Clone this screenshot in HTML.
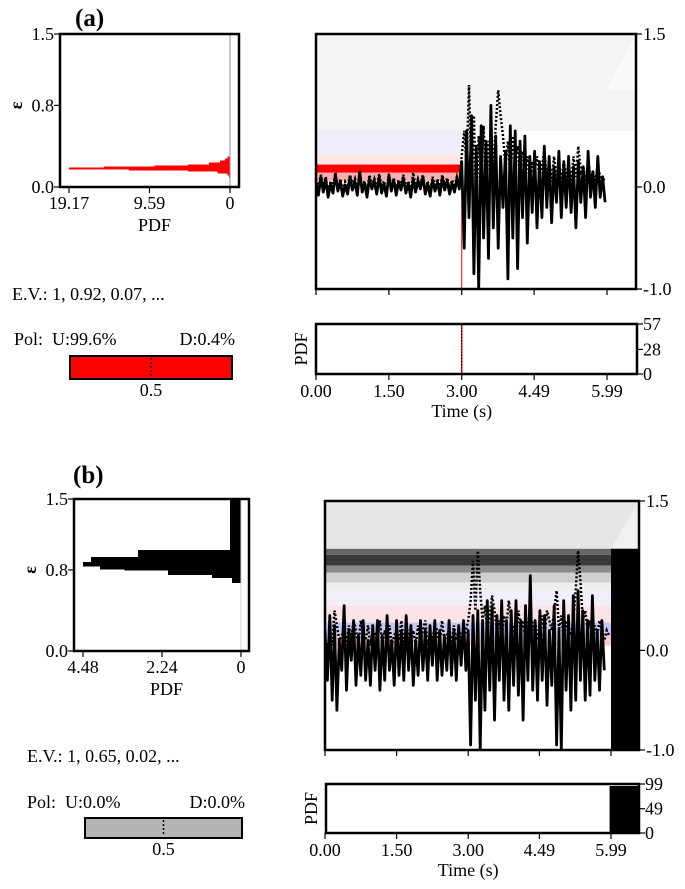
<!DOCTYPE html>
<html><head><meta charset="utf-8"><style>
body{margin:0;background:#fff}
svg{display:block;font-family:"Liberation Serif",serif}
</style></head><body>
<svg id="fig" width="685" height="889" viewBox="0 0 685 889" xmlns="http://www.w3.org/2000/svg">
<g id="root"></g>
</svg>
<script>
// ---------- data ----------
const timeTicks=["0.00","1.50","3.00","4.49","5.99"];
const timeTickVals=[0,1.5,3.0,4.49,5.99];
const epsTicks=[0.0,0.8,1.5];
const ampTicks=["1.5","0.0","-1.0"];
const ampTickVals=[1.5,0,-1];
const dt=0.05;
const solidA=[0.05,-0.08,0.1,-0.05,0.08,-0.1,0.03,-0.06,0.12,-0.04,0.06,-0.09,0.02,-0.07,0.1,-0.03,0.05,-0.08,0.15,-0.05,0.04,-0.1,0.08,-0.02,0.06,-0.07,0.1,-0.06,0.03,-0.09,0.12,-0.04,0.07,-0.08,0.05,-0.03,0.09,-0.06,0.04,-0.1,0.08,-0.05,0.06,-0.02,0.1,-0.07,0.03,-0.09,0.07,-0.04,0.05,-0.08,0.09,-0.03,0.06,-0.07,0.04,-0.05,0.08,-0.02,
0.25,-0.6,0.55,-0.3,0.7,-0.85,0.4,-1.0,0.6,-0.5,0.45,-0.7,0.8,-0.4,0.5,-0.6,0.3,-0.2,0.35,-0.9,0.6,-0.5,0.55,-0.8,0.45,-0.3,0.5,-0.55,0.3,-0.25,0.35,-0.4,0.25,-0.3,0.4,-0.2,0.3,-0.35,0.2,-0.15,0.35,-0.3,0.25,-0.2,0.3,-0.25,0.2,-0.4,0.25,-0.15,0.2,-0.3,0.35,-0.1,0.15,-0.2,0.3,-0.1,0.1,-0.15];
const dottedA=[0.08,-0.02,0.12,0.0,0.1,-0.05,0.06,0.0,0.14,-0.02,0.08,-0.04,0.05,0.0,0.12,0.02,0.08,-0.03,0.1,0.0,0.06,-0.05,0.12,0.02,0.08,-0.02,0.13,0.0,0.06,-0.04,0.1,0.0,0.09,-0.03,0.07,0.01,0.12,-0.02,0.06,-0.05,0.14,0.0,0.08,0.02,0.12,-0.03,0.06,-0.04,0.1,0.0,0.08,-0.03,0.12,0.01,0.09,-0.02,0.07,0.0,0.1,0.02,
0.3,0.55,0.2,1.0,0.1,0.7,-0.2,0.5,0.1,0.6,0.0,0.45,0.3,0.2,0.6,0.95,0.7,0.5,0.2,0.45,0.1,0.5,0.3,0.4,0.1,0.35,0.2,0.3,0.05,0.25,0.15,0.3,0.1,0.2,0.35,0.1,0.25,0.05,0.3,0.1,0.2,0.05,0.25,0.1,0.2,0.05,0.3,0.1,0.4,0.15,0.2,0.05,0.25,0.1,0.15,0.05,0.2,0.1,0.05,0.1];
const solidB=[0.2,-0.3,0.35,-0.5,0.25,-0.6,0.1,-0.2,0.45,-0.4,0.2,-0.1,0.3,-0.35,0.15,-0.25,0.3,-0.3,0.1,-0.35,0.25,-0.2,0.3,-0.4,0.15,-0.3,0.35,-0.2,0.1,-0.35,0.3,-0.25,0.2,-0.3,0.35,-0.2,0.25,-0.35,0.1,-0.25,0.3,-0.2,0.2,-0.3,0.25,-0.15,0.3,-0.3,0.2,-0.25,0.15,-0.2,0.3,-0.25,0.2,-0.3,0.25,-0.15,0.3,-0.2,
0.2,-0.95,0.35,-0.5,0.4,-1.0,0.3,-0.6,0.5,-0.4,0.45,-0.7,0.35,-0.3,0.5,-0.5,0.3,-0.6,0.4,-0.35,0.5,-0.45,0.3,-0.7,0.45,-0.3,0.75,-0.4,0.3,-0.5,0.4,-0.3,0.35,-0.55,0.2,-0.35,0.45,-0.95,0.2,-1.0,0.5,-0.4,0.35,-0.6,0.55,-0.5,0.6,-0.3,0.4,-0.5,0.3,-0.45,0.55,-0.3,0.2,-0.4,0.3,-0.2];
const dottedB=[0.1,0.0,0.2,0.05,0.4,0.25,0.1,0.15,0.2,0.05,0.25,0.1,0.3,0.2,0.05,0.3,0.15,0.1,0.25,0.05,0.2,0.15,0.1,0.3,0.05,0.2,0.1,0.25,0.05,0.15,0.2,0.1,0.3,0.05,0.25,0.15,0.1,0.2,0.05,0.25,0.1,0.2,0.3,0.05,0.15,0.1,0.25,0.2,0.05,0.3,0.1,0.15,0.2,0.05,0.25,0.1,0.2,0.15,0.1,0.2,
0.3,0.5,0.9,0.4,1.0,0.6,0.3,0.45,0.2,0.35,0.55,0.4,0.2,0.3,0.1,0.35,0.25,0.5,0.3,0.2,0.1,0.4,0.2,0.3,0.1,0.25,0.4,0.2,0.3,0.1,0.2,0.35,0.15,0.4,0.3,0.2,0.4,0.6,0.2,0.35,0.1,0.3,0.2,0.15,0.3,0.6,1.0,0.7,0.3,0.4,0.2,0.3,0.1,0.25,0.15,0.3,0.2,0.1,0.2,0.15];
// epsilon marginal PDFs
const epsBinsA=[0.10,0.12,0.14,0.16,0.17,0.18,0.19,0.20,0.21,0.22,0.24,0.26,0.28,0.30];
const pdfA=[0.1,0.3,1.5,5,12,19.17,15,9,5,2.5,1.2,0.6,0.3,0];
const epsBinsB=[0.68,0.73,0.76,0.80,0.81,0.84,0.878,0.928,0.997,1.5];
const pdfB=[0.25,0.82,2.07,3.3,4.0,4.48,4.25,2.92,0.31];
// onset-time PDFs
const onsetA=3.0, onsetPeakA=57;
const onsetStartB=5.96, onsetPeakB=95;

// ---------- helpers ----------
const NS="http://www.w3.org/2000/svg";
const root=document.getElementById('root');
function el(tag,attrs,parent,text){const e=document.createElementNS(NS,tag);for(const k in attrs)e.setAttribute(k,attrs[k]);if(text!==undefined)e.textContent=text;(parent||root).appendChild(e);return e;}
function lin(d0,d1,r0,r1){return v=>r0+(v-d0)/(d1-d0)*(r1-r0);}
function txt(x,y,s,size,anchor,parent,bold){return el('text',{x:x,y:y,'font-size':size,'text-anchor':anchor||'middle','font-weight':bold?'bold':'normal',fill:'#000'},parent,s);}

function panel(cfg){
  const g=el('g',{});
  
  
  const lab=txt(cfg.labX,cfg.labY,cfg.label,25,'start',g,true);
  
  
  // ---- left epsilon PDF
  const L=cfg.left;
  const ey=lin(0,1.5,L.y1,L.y0);
  const px=lin(0,cfg.pmax,L.x0tick,L.xmaxtick);
  const hist=el('g',{'shape-rendering':'crispEdges'},g);
  
  
  for(let i=0;i<cfg.pdf.length;i++){
    const a=cfg.bins[i],b=cfg.bins[i+1],v=cfg.pdf[i];
    if(v<=0)continue;
    const r=el('rect',{x:px(v),y:ey(b),width:Math.max(0,px(0)-px(v)),height:Math.max(1,ey(a)-ey(b)+0.8),fill:cfg.histColor},hist);
    
    
  }
  el('line',{x1:px(0),x2:px(0),y1:L.y0,y2:L.y1,stroke:cfg.zeroLine,'stroke-width':1},g);
  const lb=el('rect',{x:L.x0,y:L.y0,width:L.x1-L.x0,height:L.y1-L.y0,fill:'none',stroke:'#000','stroke-width':2.5},g);
  
  
  epsTicks.forEach(t=>{el('line',{x1:L.x0-6,x2:L.x0,y1:ey(t),y2:ey(t),stroke:'#000','stroke-width':1.2},g);
    const tt=txt(L.x0-6,ey(t)+6,t.toFixed(1),18,'end',g);});
  const et=txt(0,0,'ε',18,'middle',g,true);et.setAttribute('transform',`translate(${L.x0-42},${ey(0.8)}) rotate(-90)`);et.setAttribute('dominant-baseline','middle');
  
  cfg.pdfTicks.forEach((t,i)=>{const x=px(t);el('line',{x1:x,x2:x,y1:L.y1,y2:L.y1+6,stroke:'#000','stroke-width':1.2},g);
    const tt=txt(x,L.y1+22,cfg.pdfTickLabels[i],18,'middle',g);});
  const pt=txt((L.x0+L.x1)/2+5,L.y1+44,'PDF',18,'middle',g);
  const ev=txt(cfg.evX,cfg.evY,cfg.ev,18,'start',g);
  const pu=txt(cfg.polX,cfg.polY,'Pol:  '+cfg.polU,18,'start',g);pu.setAttribute('style','white-space:pre');
  const pd=txt(cfg.polBar.x1+3,cfg.polY,cfg.polD,18,'end',g);
  const pb=cfg.polBar;
  const bar=el('rect',{x:pb.x0,y:pb.y0,width:pb.x1-pb.x0,height:pb.y1-pb.y0,fill:cfg.polColor,stroke:'#000','stroke-width':2},g);
  
  el('line',{x1:(pb.x0+pb.x1)/2,x2:(pb.x0+pb.x1)/2,y1:pb.y0+2,y2:pb.y1-2,stroke:'#000','stroke-width':1.5,'stroke-dasharray':'2,2'},g);
  const hl=txt((pb.x0+pb.x1)/2,pb.y1+17,'0.5',18,'middle',g);
  // ---- main trace panel
  const M=cfg.main;
  const tx=lin(0,5.99,M.x0,M.tx599);
  const ay=lin(-1,1.5,M.y1,M.y0);
  const cp='clip'+cfg.name;
  const cpE=el('clipPath',{id:cp},g);el('rect',{x:M.x0,y:M.y0,width:M.x1-M.x0,height:M.y1-M.y0},cpE);
  const bg=el('g',{'clip-path':`url(#${cp})`},g);
  
  cfg.bands(bg,tx,ay,M);
  const tr=el('g',{'clip-path':`url(#${cp})`},g);
  function path(arr){return arr.map((v,i)=>(i?'L':'M')+tx(i*dt).toFixed(1)+','+ay(v).toFixed(1)).join('');}
  const ds=el('path',{d:path(cfg.dotted),fill:'none',stroke:'#000','stroke-width':2.5,'stroke-dasharray':'2,2'},tr);
  
  const ss=el('path',{d:path(cfg.solid),fill:'none',stroke:'#000','stroke-width':2.8,'stroke-linejoin':'round'},tr);
  
  const mb=el('rect',{x:M.x0,y:M.y0,width:M.x1-M.x0,height:M.y1-M.y0,fill:'none',stroke:'#000','stroke-width':2.5},g);
  
  ampTickVals.forEach((v,i)=>{el('line',{x1:M.x1,x2:M.x1+6,y1:ay(v),y2:ay(v),stroke:'#000','stroke-width':1.2},g);
    const tt=txt(M.x1+7,ay(v)+6,ampTicks[i],18,'start',g);});
  timeTickVals.forEach(t=>{el('line',{x1:tx(t),x2:tx(t),y1:M.y1,y2:M.y1+6,stroke:'#000','stroke-width':1.2},g);});
  // ---- onset PDF
  const P=cfg.pdfBox;
  const py=lin(0,P.max,P.y1,P.y0);
  const on=el('g',{},g);
  cfg.onset(on,tx,py,P);
  const pbx=el('rect',{x:P.x0,y:P.y0,width:P.x1-P.x0,height:P.y1-P.y0,fill:'none',stroke:'#000','stroke-width':2.5},g);
  
  P.ticks.forEach(v=>{el('line',{x1:P.x1,x2:P.x1+6,y1:py(v),y2:py(v),stroke:'#000','stroke-width':1.2},g);
    const tt=txt(P.x1+6,py(v)+6,String(v),18,'start',g);});
  const yt=txt(0,0,'PDF',18,'middle',g);yt.setAttribute('transform',`translate(${P.x0-9},${(P.y0+P.y1)/2}) rotate(-90)`);
  
  timeTickVals.forEach((t,i)=>{el('line',{x1:tx(t),x2:tx(t),y1:P.y1,y2:P.y1+6,stroke:'#000','stroke-width':1.2},g);
    const tt=txt(tx(t),P.y1+23,timeTicks[i],18,'middle',g);});
  const tt=txt(tx(3),P.y1+43,'Time (s)',18,'middle',g);
}

// ---------- panel a ----------
panel({name:'panel-a',label:'(a)',labX:75,labY:26,
  left:{x0:60,x1:239,y0:34,y1:187,x0tick:230,xmaxtick:69},pmax:19.17,
  pdfTicks:[19.17,9.59,0],pdfTickLabels:['19.17','9.59','0'],
  bins:epsBinsA,pdf:pdfA,histColor:'#ff0000',zeroLine:'#8888aa',
  ev:'E.V.: 1, 0.92, 0.07, ...',evX:12,evY:300,
  polX:14,polY:345,polU:'U:99.6%',polD:'D:0.4%',polColor:'#ff0000',
  polBar:{x0:70,x1:232,y0:356,y1:379},
  solid:solidA,dotted:dottedA,
  main:{x0:316,x1:636,y0:34,y1:289,tx599:607},
  bands:(g,tx,ay,M)=>{
    el('rect',{x:M.x0,y:ay(1.5),width:M.x1-M.x0,height:ay(0.55)-ay(1.5),fill:'#f4f4f4'},g);
    el('polygon',{points:`${M.x1},${ay(1.5)} ${M.x1},${ay(0.95)} ${M.x1-30},${ay(0.95)}`,fill:'#fafafa'},g);
    el('rect',{x:M.x0,y:ay(0.55),width:tx(3)-M.x0,height:ay(0.32)-ay(0.55),fill:'#eeeefa'},g);
    el('rect',{x:M.x0,y:ay(0.32),width:tx(3)-M.x0,height:ay(0.22)-ay(0.32),fill:'#fde6e6'},g);
    el('rect',{x:M.x0,y:ay(0.22),width:tx(3)-M.x0,height:ay(0.14)-ay(0.22),fill:'#ff0000'},g);
    el('rect',{x:M.x0,y:ay(0.14),width:tx(3)-M.x0,height:ay(0.06)-ay(0.14),fill:'#f7b0b0'},g);
    el('line',{x1:tx(onsetA),x2:tx(onsetA),y1:ay(0),y2:M.y1,stroke:'#ff0000','stroke-width':1},g);
  },
  pdfBox:{x0:316,x1:637,y0:324,y1:374,max:57,ticks:[57,28,0]},
  onset:(g,tx,py,P)=>{
    const l=el('line',{x1:tx(onsetA),x2:tx(onsetA),y1:py(0),y2:py(onsetPeakA),stroke:'#ff0000','stroke-width':1.5},g);
    
    el('line',{x1:tx(onsetA),x2:tx(onsetA),y1:py(0),y2:py(onsetPeakA),stroke:'#000','stroke-width':1,'stroke-dasharray':'1,2'},g);
  }
});

// ---------- panel b ----------
panel({name:'panel-b',label:'(b)',labX:73,labY:483,
  left:{x0:74,x1:249,y0:499,y1:651,x0tick:241,xmaxtick:83},pmax:4.48,
  pdfTicks:[4.48,2.24,0],pdfTickLabels:['4.48','2.24','0'],
  bins:epsBinsB,pdf:pdfB,histColor:'#000',zeroLine:'#d8c8e8',
  ev:'E.V.: 1, 0.65, 0.02, ...',evX:27,evY:762,
  polX:27,polY:808,polU:'U:0.0%',polD:'D:0.0%',polColor:'#b4b4b4',
  polBar:{x0:85,x1:242,y0:818,y1:838},
  solid:solidB,dotted:dottedB,
  main:{x0:325,x1:639,y0:501,y1:750,tx599:611},
  bands:(g,tx,ay,M)=>{
    el('rect',{x:M.x0,y:ay(1.5),width:M.x1-M.x0,height:ay(1.02)-ay(1.5),fill:'#e6e6e6'},g);
    el('polygon',{points:`${M.x1},${ay(1.5)} ${M.x1},${ay(1.02)} ${tx(5.99)},${ay(1.02)}`,fill:'#f0f0f0'},g);
    el('rect',{x:M.x0,y:ay(1.02),width:M.x1-M.x0,height:ay(0.96)-ay(1.02),fill:'#666'},g);
    el('rect',{x:M.x0,y:ay(0.96),width:M.x1-M.x0,height:ay(0.85)-ay(0.96),fill:'#3a3a3a'},g);
    el('rect',{x:M.x0,y:ay(0.85),width:M.x1-M.x0,height:ay(0.78)-ay(0.85),fill:'#8a8a8a'},g);
    el('rect',{x:M.x0,y:ay(0.78),width:M.x1-M.x0,height:ay(0.68)-ay(0.78),fill:'#cfcfcf'},g);
    el('rect',{x:M.x0,y:ay(0.68),width:M.x1-M.x0,height:ay(0.6)-ay(0.68),fill:'#eeeeee'},g);
    el('rect',{x:M.x0,y:ay(0.6),width:tx(5.99)-M.x0,height:ay(0.45)-ay(0.6),fill:'#f0f0fb'},g);
    el('rect',{x:M.x0,y:ay(0.45),width:tx(5.99)-M.x0,height:ay(0.28)-ay(0.45),fill:'#fbe4e6'},g);
    el('rect',{x:M.x0,y:ay(0.28),width:tx(5.99)-M.x0,height:ay(0.14)-ay(0.28),fill:'#c8c8f4'},g);
    el('rect',{x:M.x0,y:ay(0.14),width:tx(5.99)-M.x0,height:ay(0.05)-ay(0.14),fill:'#f4caca'},g);
    const k=el('rect',{x:tx(5.99),y:ay(1.02),width:M.x1-tx(5.99),height:M.y1-ay(1.02),fill:'#000'},g);
    
  },
  pdfBox:{x0:326,x1:639,y0:784,y1:833,max:99,ticks:[99,49,0]},
  onset:(g,tx,py,P)=>{
    const r=el('rect',{x:tx(onsetStartB),y:py(onsetPeakB),width:P.x1-tx(onsetStartB),height:py(0)-py(onsetPeakB),fill:'#000'},g);
    
  }
});
</script>
</body></html>
